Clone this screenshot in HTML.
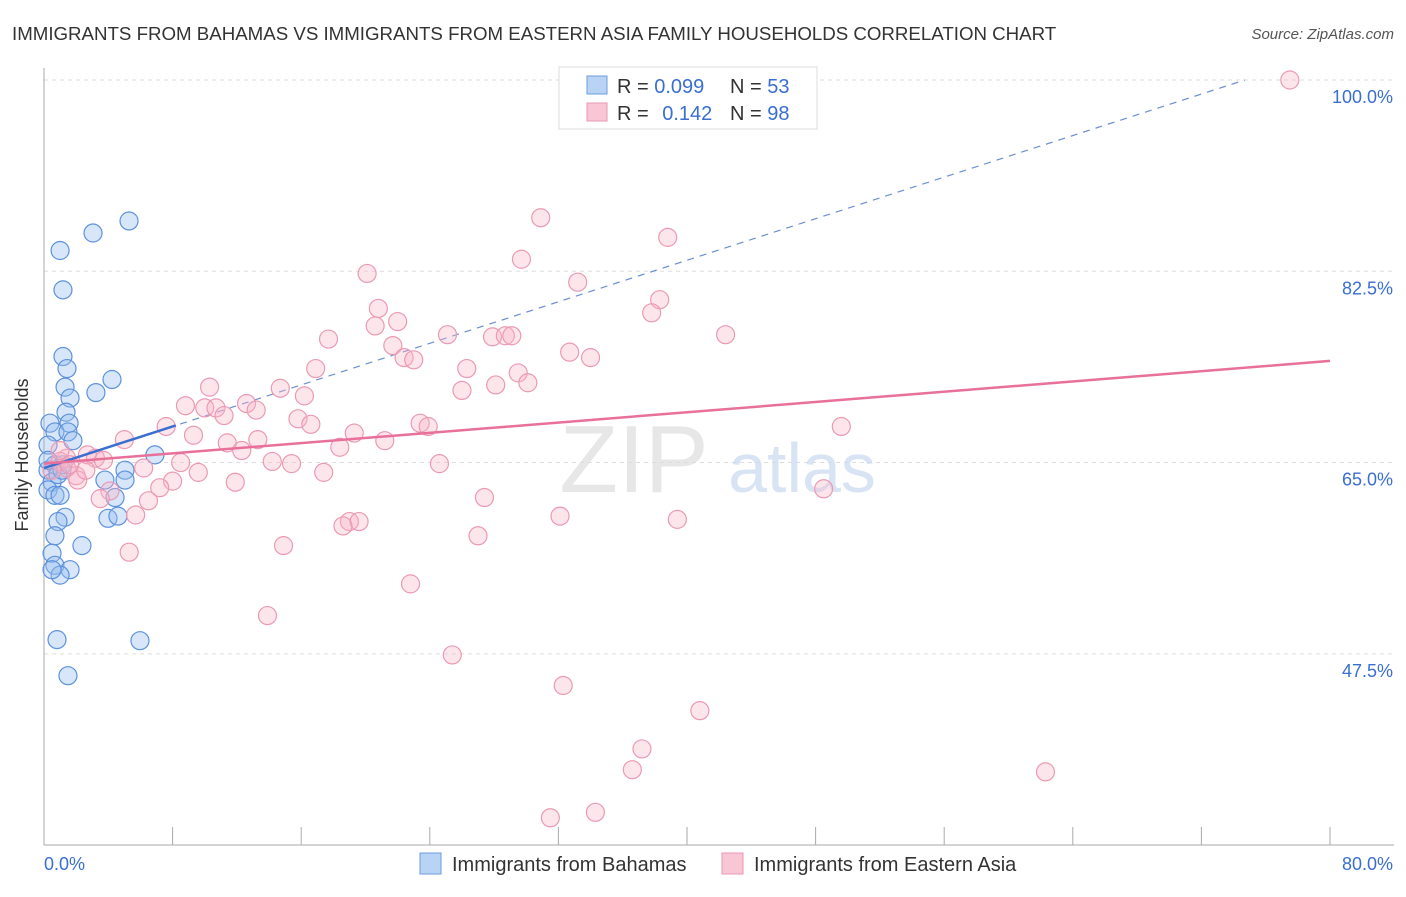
<!DOCTYPE html>
<html><head><meta charset="utf-8"><style>
body{margin:0;background:#fff;font-family:"Liberation Sans",sans-serif}
svg text{font-family:"Liberation Sans",sans-serif}
</style></head><body>
<svg width="1406" height="892" xmlns="http://www.w3.org/2000/svg">
<text x="12" y="40" font-size="18.7" fill="#333">IMMIGRANTS FROM BAHAMAS VS IMMIGRANTS FROM EASTERN ASIA FAMILY HOUSEHOLDS CORRELATION CHART</text>
<text x="1394" y="39" font-size="15" fill="#555" font-style="italic" text-anchor="end">Source: ZipAtlas.com</text>
<g id="grid"></g>
<text x="634" y="492" font-size="96" fill="#ddd" font-family="Liberation Serif" text-anchor="middle" opacity="0.7">ZIP</text>
<text x="802" y="492" font-size="70" fill="#c8daf0" text-anchor="middle" opacity="0.7">atlas</text>
<g id="trend"></g>
<g id="pts"></g>
<text x="28" y="455" font-size="18" fill="#333" text-anchor="middle" transform="rotate(-90 28 455)">Family Households</text>
<text x="44" y="870" font-size="18" fill="#3a6fd0">0.0%</text>
<text x="1393" y="870" font-size="18" fill="#3a6fd0" text-anchor="end">80.0%</text>
<g>
<rect x="559" y="67" width="258" height="62" fill="#fff" stroke="#ddd"/>
<rect x="587" y="76" width="20" height="18" fill="#b9d3f5" stroke="#6c9ee0"/>
<rect x="587" y="103" width="20" height="18" fill="#f9c6d6" stroke="#ec97b2"/>
<text x="617" y="93" font-size="20" fill="#333">R = <tspan fill="#3a6fd0">0.099</tspan><tspan x="730">N = </tspan><tspan fill="#3a6fd0">53</tspan></text>
<text x="617" y="120" font-size="20" fill="#333">R = <tspan fill="#3a6fd0" dx="8">0.142</tspan><tspan x="730">N = </tspan><tspan fill="#3a6fd0">98</tspan></text>
</g>
<g>
<rect x="420" y="853" width="21" height="21" fill="#b9d3f5" stroke="#6c9ee0"/>
<text x="452" y="871" font-size="20" fill="#333">Immigrants from Bahamas</text>
<rect x="722" y="853" width="21" height="21" fill="#f9c6d6" stroke="#ec97b2"/>
<text x="754" y="871" font-size="20" fill="#333">Immigrants from Eastern Asia</text>
</g>
</svg>
<script>
const yTicks=[100,82.5,65,47.5];
const yTickLabels=["100.0%","82.5%","65.0%","47.5%"];
const xTicks=[0,8,16,24,32,40,48,56,64,72,80];
const bahamasX=[1.0,3.05,5.29,1.18,1.18,1.43,1.31,3.23,4.23,1.62,1.37,1.56,0.37,0.68,1.49,1.8,0.25,6.9,0.68,1.18,0.25,5.04,3.79,5.04,0.5,0.25,0.68,1.0,4.42,1.31,0.87,3.98,4.6,0.68,2.36,0.5,0.68,1.62,1.0,0.5,0.81,5.97,1.49,0.25,0.87,1.12];
const bahamasY=[84.4,86.0,87.1,80.8,74.7,73.6,71.9,71.4,72.6,70.9,69.6,68.6,68.6,67.8,67.8,67.0,66.6,65.7,64.8,64.8,64.3,64.3,63.4,63.4,63.2,62.5,62.0,62.0,61.8,60.0,59.6,59.9,60.1,58.3,57.4,56.7,55.6,55.2,54.7,55.2,48.8,48.7,45.5,65.2,63.9,64.3];
const asiaX=[77.5,43.1,45.8,30.9,38.8,29.7,20.1,33.2,38.3,37.8,20.8,22.0,20.6,17.7,25.1,27.9,28.7,29.1,42.4,21.7,32.7,34.0,22.4,23.0,26.3,16.9,29.5,30.1,28.1,26.0,10.3,14.7,16.2,8.8,12.6,10.0,10.7,13.2,11.2,15.8,16.6,23.4,23.9,7.6,49.6,19.3,9.3,5.0,11.4,13.3,21.2,18.4,12.3,2.7,3.2,3.7,14.2,15.4,24.6,8.5,1.4,1.0,1.4,6.2,9.6,17.4,2.0,8.0,2.1,11.9,7.2,4.1,27.4,3.5,6.5,48.5,5.7,32.1,39.4,19.0,19.6,18.6,27.0,14.9,5.3,22.8,13.9,25.4,32.3,40.8,37.2,36.6,62.3,31.5,34.3,1.0,1.6,0.5,2.6];
const asiaY=[100,100,100,87.4,85.6,83.6,82.3,81.5,79.9,78.7,79.1,77.9,77.5,76.3,76.7,76.5,76.6,76.6,76.7,75.7,75.1,74.6,74.6,74.4,73.6,73.6,73.2,72.3,72.1,71.6,71.9,71.8,71.1,70.2,70.4,70.0,70.0,69.8,69.3,69.0,68.5,68.6,68.3,68.3,68.3,67.7,67.5,67.1,66.8,67.1,67.0,66.4,66.1,65.7,65.4,65.2,65.1,64.9,64.9,65.0,65.4,65.1,64.5,64.5,64.1,64.1,63.8,63.3,63.4,63.2,62.7,62.4,61.8,61.7,61.5,62.6,60.2,60.1,59.8,59.6,59.6,59.2,58.3,57.4,56.8,53.9,51.0,47.4,44.6,42.3,38.8,36.9,36.7,32.5,33.0,66.1,64.8,64.3,64.3];
const bahamasTrend=[64.5,100];
const bahamasTrendEnd=[74.7];
const bahamasSolidEnd=[8.2];
const asiaTrend=[64.9,74.3];

const NS="http://www.w3.org/2000/svg";
const X=v=>44+v*16.075, Y=v=>80+(100-v)*10.93;
function mk(tag,attrs,parent){const e=document.createElementNS(NS,tag);for(const k in attrs)e.setAttribute(k,attrs[k]);parent.appendChild(e);return e;}
const grid=document.getElementById('grid');
yTicks.forEach((t,i)=>{
  const l=mk('line',{x1:44,x2:1394,y1:Y(t),y2:Y(t),stroke:'#ddd','stroke-dasharray':'4,4'},grid);
  
  
  const tx=mk('text',{x:1393,y:Y(t)+23,'font-size':18,fill:'#3a6fd0','text-anchor':'end'},grid);
  tx.textContent=yTickLabels[i];
  
  
});
const ax=mk('line',{x1:44,x2:44,y1:68,y2:845,stroke:'#aaa'},grid);


const bx=mk('line',{x1:44,x2:1394,y1:845,y2:845,stroke:'#aaa'},grid);


xTicks.forEach(t=>{
  const l=mk('line',{x1:X(t),x2:X(t),y1:827,y2:845,stroke:'#aaa'},grid);
  
  
});
const tr=document.getElementById('trend');
const by=x=>bahamasTrend[0]+(bahamasTrend[1]-bahamasTrend[0])*x/bahamasTrendEnd[0];
let d=mk('line',{x1:X(0),y1:Y(by(0)),x2:X(bahamasTrendEnd[0]),y2:Y(100),stroke:'#6c8fd0','stroke-width':1.2,'stroke-dasharray':'7,6'},tr);


const pts=document.getElementById('pts');
bahamasX.forEach((x,i)=>{
  const c=mk('circle',{cx:X(x),cy:Y(bahamasY[i]),r:9,fill:'rgba(150,190,240,0.38)',stroke:'#5d92dc','stroke-width':1.2},pts);
  
  
});
asiaX.forEach((x,i)=>{
  const c=mk('circle',{cx:X(x),cy:Y(asiaY[i]),r:9,fill:'rgba(248,180,200,0.35)',stroke:'#eb9ab4','stroke-width':1.2},pts);
  
  
});
let s=mk('line',{x1:X(0),y1:Y(by(0)),x2:X(bahamasSolidEnd[0]),y2:Y(by(bahamasSolidEnd[0])),stroke:'#3a6fd0','stroke-width':2.5},pts);


let p=mk('line',{x1:X(0),y1:Y(asiaTrend[0]),x2:X(80),y2:Y(asiaTrend[1]),stroke:'#e8709a','stroke-width':2.5},pts);


</script>
</body></html>
